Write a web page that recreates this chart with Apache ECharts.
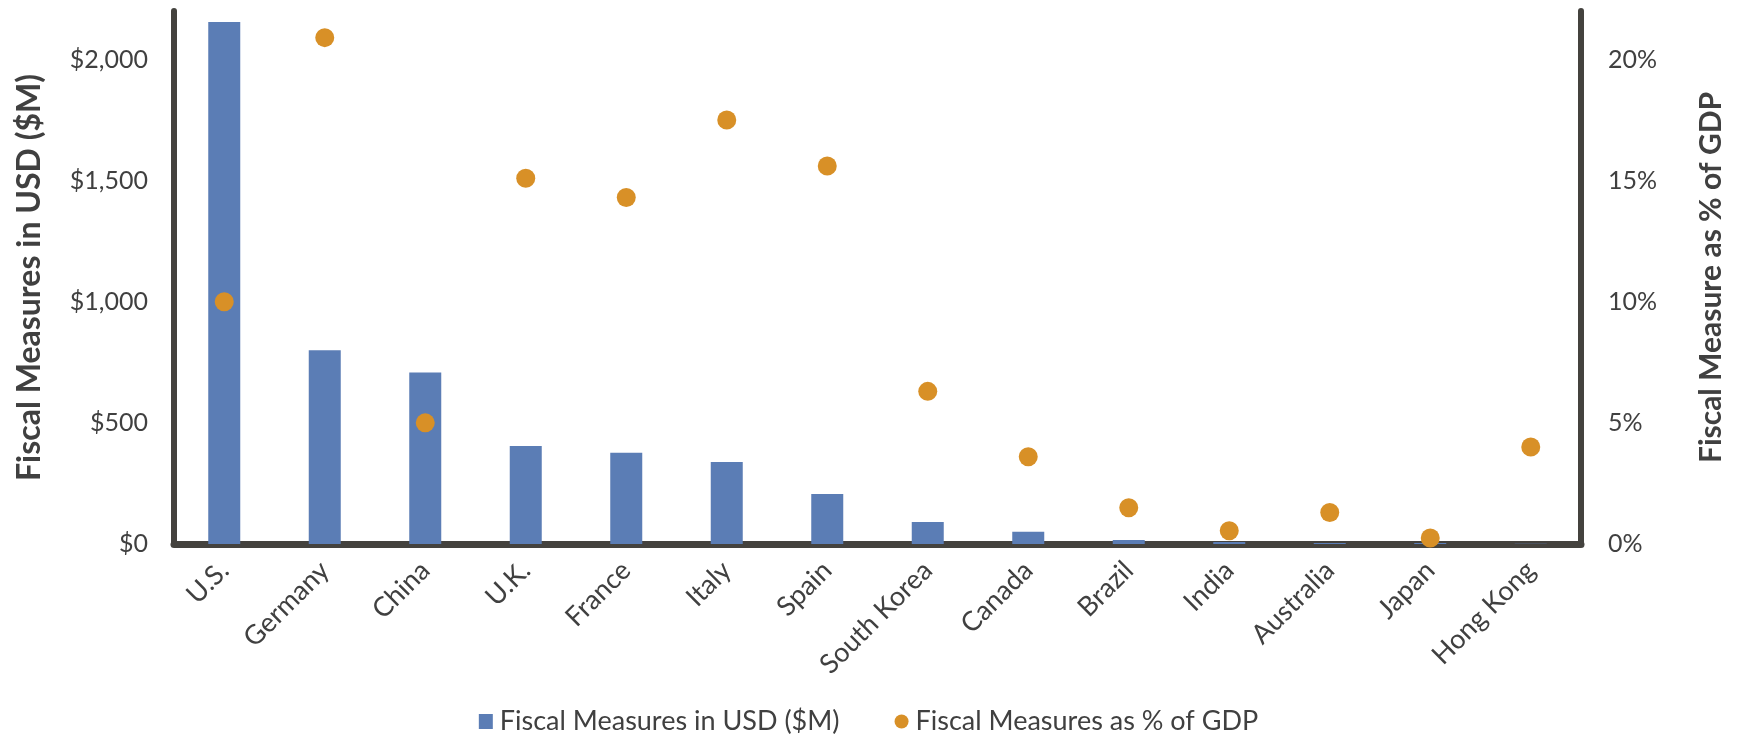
<!DOCTYPE html>
<html>
<head>
<meta charset="utf-8">
<script src="https://cdn.jsdelivr.net/npm/echarts@6/dist/echarts.min.js"></script>
<style>
  html, body { margin: 0; padding: 0; background: #ffffff; }
  #chart { width: 1737px; height: 736px; }
</style>
</head>
<body>
<div id="chart"></div>
<script>
// Fiscal stimulus by country: dollar amount (bars) and share of GDP (dots)
const categories = ['U.S.', 'Germany', 'China', 'U.K.', 'France', 'Italy', 'Spain',
  'South Korea', 'Canada', 'Brazil', 'India', 'Australia', 'Japan', 'Hong Kong'];
const usdValues = [2155, 800, 708, 405, 377, 338, 206, 91, 51, 17, 8, 4, 4, 1];
const gdpShare = [10.0, 20.9, 5.0, 15.1, 14.3, 17.5, 15.6, 6.3, 3.6, 1.5, 0.55, 1.3, 0.25, 4.0];
const seriesNames = ['Fiscal Measures in USD ($M)', 'Fiscal Measures as % of GDP'];
const axisNames = ['Fiscal Measures in USD ($M)', 'Fiscal Measure as % of GDP'];

const FONT = 'Lato, "Open Sans", sans-serif';
const TEXT = '#404040';
const AXIS = '#44423e';
const BAR = '#5b7db5';
const DOT = '#d89027';

const chart = echarts.init(document.getElementById('chart'), null, { renderer: 'canvas' });

const axisLine = { show: true, lineStyle: { color: AXIS, width: 6 } };

chart.setOption({
  animation: false,
  backgroundColor: '#ffffff',
  textStyle: { fontFamily: FONT, color: TEXT },
  grid: { left: 174, right: 156, top: 11, bottom: 192, containLabel: false },
  legend: {
    top: 703,
    left: 'center',
    itemGap: 55,
    itemWidth: 14,
    itemHeight: 15,
    textStyle: { fontFamily: FONT, fontSize: 27, color: TEXT, padding: [0, 0, 0, 2] },
    data: [
      { name: seriesNames[0], icon: 'rect' },
      { name: seriesNames[1], icon: 'circle' }
    ]
  },
  xAxis: {
    type: 'category',
    data: categories,
    axisLine: { show: true, lineStyle: { color: AXIS, width: 7 } },
    axisTick: { show: false },
    splitLine: { show: false },
    axisLabel: {
      rotate: 45,
      margin: 22,
      fontSize: 27,
      color: TEXT,
      fontFamily: FONT,
      interval: 0
    }
  },
  yAxis: [
    {
      type: 'value',
      min: 0,
      max: 2200,
      interval: 500,
      name: axisNames[0],
      nameLocation: 'middle',
      nameRotate: 90,
      nameGap: 128,
      nameTextStyle: { fontSize: 32, fontWeight: 'bold', color: TEXT, fontFamily: FONT },
      axisLine: axisLine,
      axisTick: { show: false },
      splitLine: { show: false },
      axisLabel: {
        showMaxLabel: false,
        margin: 26,
        fontSize: 25,
        color: TEXT,
        fontFamily: FONT,
        formatter: v => '$' + v.toLocaleString('en-US')
      }
    },
    {
      type: 'value',
      min: 0,
      max: 22,
      interval: 5,
      position: 'right',
      name: axisNames[1],
      nameLocation: 'middle',
      nameRotate: 90,
      nameGap: 115,
      nameTextStyle: { fontSize: 30, fontWeight: 'bold', color: TEXT, fontFamily: FONT },
      axisLine: axisLine,
      axisTick: { show: false },
      splitLine: { show: false },
      axisLabel: {
        showMaxLabel: false,
        margin: 27,
        fontSize: 25,
        color: TEXT,
        fontFamily: FONT,
        formatter: '{value}%'
      }
    }
  ],
  series: [
    {
      name: seriesNames[0],
      type: 'bar',
      yAxisIndex: 0,
      data: usdValues,
      barWidth: 32,
      itemStyle: { color: BAR },
      z: 2
    },
    {
      name: seriesNames[1],
      type: 'scatter',
      yAxisIndex: 1,
      data: gdpShare,
      symbol: 'circle',
      symbolSize: 19,
      itemStyle: { color: DOT, opacity: 1 },
      z: 5
    }
  ]
});
</script>
</body>
</html>
